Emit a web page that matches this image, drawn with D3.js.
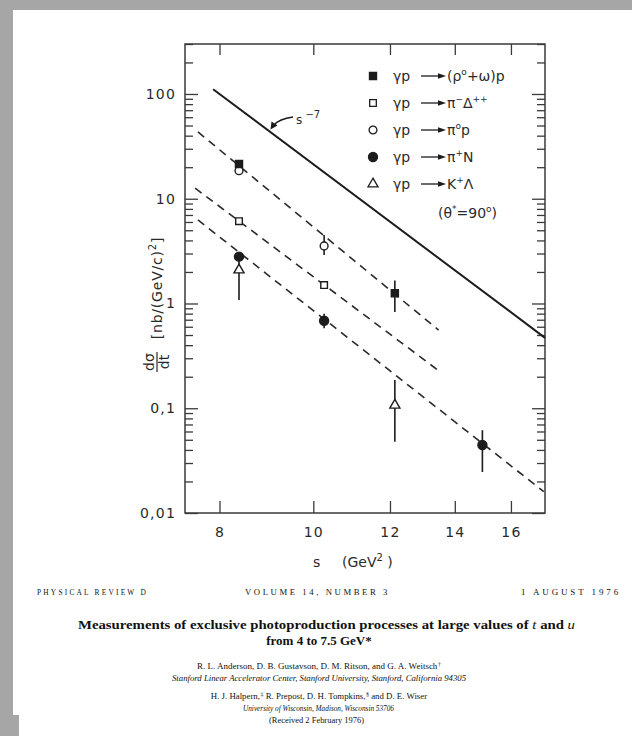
<!DOCTYPE html>
<html><head><meta charset="utf-8">
<script src="https://cdn.jsdelivr.net/npm/d3@7"></script>
<style>
html,body{margin:0;padding:0;background:#a6a6a6;}
svg{display:block;}
</style></head>
<body>
<svg id="c" width="632" height="736"></svg>
<script>
// ---------- data ----------
const xTicks = [8, 10, 12, 14, 16];
const yTicks = [0.01, 0.1, 1, 10, 100];
const yTickLabels = ["0,01", "0,1", "1", "10", "100"];

// series: s (GeV^2), dσ/dt, error low, error high (null = no bar)
const rhoOmegaS   = [8.38, 12.14];
const rhoOmegaV   = [21.5, 1.25];
const rhoOmegaLo  = [null, 0.83];
const rhoOmegaHi  = [null, 1.66];

const piDeltaS    = [8.38, 10.26];
const piDeltaV    = [6.1, 1.5];

const pi0pS       = [8.38, 10.26];
const pi0pV       = [18.5, 3.54];
const pi0pLo      = [null, 2.9];
const pi0pHi      = [null, 4.5];

const piNS        = [8.38, 10.26, 14.95];
const piNV        = [2.8, 0.685, 0.0446];
const piNLo       = [null, 0.58, 0.0246];
const piNHi       = [null, 0.80, 0.0617];

const kLamS       = [8.38, 12.14];
const kLamV       = [2.09, 0.107];
const kLamLo      = [1.08, 0.048];
const kLamHi      = [2.6, 0.186];

// fitted lines (end points)
const solidLineS  = [7.88, 17.35];
const solidLineV  = [111, 0.47];
const dash1S      = [7.60, 13.47];
const dash1V      = [43.4, 0.558];
const dash2S      = [7.55, 13.52];
const dash2V      = [12.6, 0.223];
const dash3S      = [7.60, 17.3];
const dash3V      = [6.27, 0.016];

const legendLabels = [
  [{t:"(ρ"},{t:"o",sup:1},{t:"+ω)p"}],
  [{t:"π"},{t:"−",sup:1},{t:"Δ"},{t:"++",sup:1}],
  [{t:"π"},{t:"o",sup:1},{t:"p"}],
  [{t:"π"},{t:"+",sup:1},{t:"N"}],
  [{t:"K"},{t:"+",sup:1},{t:"Λ"}]
];

// ---------- drawing ----------
const svg = d3.select("#c");
const ink = "#1c1c1c";
const hand = "'DejaVu Sans', sans-serif";
const serif = "'Liberation Serif', 'Times New Roman', serif";

// paper
svg.append("rect").attr("x",13).attr("y",10).attr("width",619).attr("height",726).attr("fill","#fff");
svg.append("rect").attr("x",13).attr("y",715).attr("width",6).attr("height",21).attr("fill","#a6a6a6");

const L=185, R=545, T=44, B=513;
const x = d3.scaleLog().domain([7.37, 17.35]).range([L, R]);
const y = d3.scaleLog().domain([0.01, 300]).range([B, T]);

const minorY = [];
[0.01,0.1,1,10,100].forEach(d=>{ for(let k=2;k<=9;k++){ const v=d*k; if(v<=300) minorY.push(v);} });

function styleAxis(g){
  g.select(".domain").remove();
  g.selectAll("line").attr("stroke","#3a3a3a").attr("stroke-width",1.3);
  g.selectAll("text").attr("font-family",hand).attr("font-size",14).attr("fill","#2a2a2a").attr("letter-spacing",1.2);
}
// left axis
svg.append("g").attr("transform",`translate(${L},0)`)
  .call(d3.axisLeft(y).tickValues(yTicks).tickFormat((d,i)=>yTickLabels[i]).tickSizeInner(-13).tickSizeOuter(0).tickPadding(9))
  .call(styleAxis);
svg.append("g").attr("transform",`translate(${L},0)`)
  .call(d3.axisLeft(y).tickValues(minorY).tickFormat("").tickSizeInner(-8).tickSizeOuter(0))
  .call(styleAxis);
// right axis
svg.append("g").attr("transform",`translate(${R},0)`)
  .call(d3.axisRight(y).tickValues(yTicks).tickFormat("").tickSizeInner(-13).tickSizeOuter(0))
  .call(styleAxis);
svg.append("g").attr("transform",`translate(${R},0)`)
  .call(d3.axisRight(y).tickValues(minorY).tickFormat("").tickSizeInner(-8).tickSizeOuter(0))
  .call(styleAxis);
// bottom axis
svg.append("g").attr("transform",`translate(0,${B})`)
  .call(d3.axisBottom(x).tickValues(xTicks).tickFormat(d3.format("d")).tickSizeInner(-12).tickSizeOuter(0).tickPadding(14))
  .call(styleAxis);
// top axis
svg.append("g").attr("transform",`translate(0,${T})`)
  .call(d3.axisTop(x).tickValues(xTicks).tickFormat("").tickSizeInner(-11).tickSizeOuter(0))
  .call(styleAxis);
// frame
svg.append("rect").attr("x",L).attr("y",T).attr("width",R-L).attr("height",B-T)
  .attr("fill","none").attr("stroke","#3a3a3a").attr("stroke-width",1.5);

// x axis title
const xt = svg.append("text").attr("x",313).attr("y",567).attr("font-family",hand).attr("font-size",14).attr("fill","#2a2a2a");
xt.append("tspan").text("s");
xt.append("tspan").attr("x",342).text("(GeV");
xt.append("tspan").attr("dy",-6).attr("font-size",10).text("2");
xt.append("tspan").attr("dy",6).text(" )");

// y axis title
const yg = svg.append("g").attr("transform","translate(162,288) rotate(-90)");
const yt = yg.append("text").attr("text-anchor","middle").attr("font-family",hand).attr("font-size",14).attr("fill","#2a2a2a").attr("letter-spacing",0.8);
yt.append("tspan").text("[nb/(GeV/c)");
yt.append("tspan").attr("dy",-6).attr("font-size",10).text("2");
yt.append("tspan").attr("dy",6).text("]");
const fg = svg.append("g").attr("transform","translate(157,362) rotate(-90)");
fg.append("text").attr("text-anchor","middle").attr("y",-3).attr("font-family",hand).attr("font-size",14).attr("fill","#2a2a2a").text("dσ");
fg.append("line").attr("x1",-10).attr("x2",10).attr("y1",0).attr("y2",0).attr("stroke","#2a2a2a").attr("stroke-width",1.2);
fg.append("text").attr("text-anchor","middle").attr("y",12).attr("font-family",hand).attr("font-size",14).attr("fill","#2a2a2a").text("dt");

// lines
const line = d3.line().x(d=>x(d[0])).y(d=>y(d[1]));
function pairs(a,b){ return a.map((v,i)=>[v,b[i]]); }
svg.append("path").attr("d",line(pairs(solidLineS,solidLineV))).attr("stroke",ink).attr("stroke-width",2).attr("fill","none");
[[dash1S,dash1V],[dash2S,dash2V],[dash3S,dash3V]].forEach(([s,v])=>{
  svg.append("path").attr("d",line(pairs(s,v))).attr("stroke","#2a2a2a").attr("stroke-width",1.6)
    .attr("stroke-dasharray","8,6").attr("fill","none");
});

// s^-7 annotation
svg.append("path").attr("d",`M293,117 Q279,119 274,125`).attr("stroke",ink).attr("stroke-width",1.3).attr("fill","none");
svg.append("path").attr("d",`M270.5,129.5 L271.5,121.5 L277.5,125.5 Z`).attr("fill",ink);
const st = svg.append("text").attr("x",296).attr("y",124).attr("font-family",hand).attr("font-size",12).attr("fill","#2a2a2a");
st.append("tspan").text("s");
st.append("tspan").attr("dy",-6).attr("font-size",10).text(" −7");

// markers
const sym = {
  fsq: d3.symbol().type(d3.symbolSquare).size(50),
  osq: d3.symbol().type(d3.symbolSquare).size(44),
  oci: d3.symbol().type(d3.symbolCircle).size(48),
  fci: d3.symbol().type(d3.symbolCircle).size(64),
  otr: d3.symbol().type(d3.symbolTriangle).size(44)
};
const mstyle = {
  fsq:{fill:ink, stroke:ink}, osq:{fill:"#fff",stroke:ink}, oci:{fill:"#fff",stroke:ink},
  fci:{fill:ink,stroke:ink}, otr:{fill:"#fff",stroke:ink}
};
function series(S,V,Lo,Hi,kind){
  S.forEach((s,i)=>{
    if(Lo && Lo[i]!=null){
      svg.append("line").attr("x1",x(s)).attr("x2",x(s)).attr("y1",y(Lo[i])).attr("y2",y(Hi[i]))
        .attr("stroke",ink).attr("stroke-width",1.6);
    }
  });
  S.forEach((s,i)=>{
    svg.append("path").attr("d",sym[kind]()).attr("transform",`translate(${x(s)},${y(V[i])})`)
      .attr("fill",mstyle[kind].fill).attr("stroke",mstyle[kind].stroke).attr("stroke-width",1.4);
  });
}
series(kLamS,kLamV,kLamLo,kLamHi,"otr");
series(piNS,piNV,piNLo,piNHi,"fci");
series(piDeltaS,piDeltaV,null,null,"osq");
series(pi0pS,pi0pV,pi0pLo,pi0pHi,"oci");
series(rhoOmegaS,rhoOmegaV,rhoOmegaLo,rhoOmegaHi,"fsq");

// legend
const legKinds = ["fsq","osq","oci","fci","otr"];
const legY = [76,103,130,157,184];
legKinds.forEach((k,i)=>{
  const yy = legY[i];
  svg.append("path").attr("d",sym[k]()).attr("transform",`translate(373,${yy})`)
    .attr("fill",mstyle[k].fill).attr("stroke",mstyle[k].stroke).attr("stroke-width",1.3);
  svg.append("text").attr("x",393).attr("y",yy+5).attr("font-family",hand).attr("font-size",14).attr("fill","#2a2a2a").text("γp");
  svg.append("line").attr("x1",421).attr("x2",442).attr("y1",yy).attr("y2",yy).attr("stroke",ink).attr("stroke-width",1.3);
  svg.append("path").attr("d",`M446,${yy} L438,${yy-2.8} L438,${yy+2.8} Z`).attr("fill",ink);
  const t = svg.append("text").attr("x",447).attr("y",yy+5).attr("font-family",hand).attr("font-size",14).attr("fill","#2a2a2a");
  let shift = 0;
  legendLabels[i].forEach(seg=>{
    const want = seg.sup ? -6 : 0;
    const ts = t.append("tspan").attr("dy", want - shift).text(seg.t);
    if(seg.sup) ts.attr("font-size",9);
    shift = want;
  });
});
const th = svg.append("text").attr("x",438).attr("y",218).attr("font-family",hand).attr("font-size",14).attr("fill","#2a2a2a");
th.append("tspan").text("(θ");
th.append("tspan").attr("dy",-6).attr("font-size",9).text("*");
th.append("tspan").attr("dy",6).text("=90");
th.append("tspan").attr("dy",-6).attr("font-size",9).text("o");
th.append("tspan").attr("dy",6).text(")");

// ---------- page text ----------
function ptext(xx,yy,str,opt){
  const t = svg.append("text").attr("x",xx).attr("y",yy).attr("font-family",serif).attr("fill","#111")
    .attr("font-size",opt.size).attr("text-anchor",opt.anchor||"start");
  if(str) t.text(str);
  if(opt.weight) t.attr("font-weight",opt.weight);
  if(opt.italic) t.attr("font-style","italic");
  if(opt.ls) t.attr("letter-spacing",opt.ls);
  if(opt.len) t.attr("textLength",opt.len).attr("lengthAdjust","spacingAndGlyphs");
  return t;
}
ptext(37,595,"PHYSICAL REVIEW D",{size:8,ls:2.4,len:111});
ptext(245,595,"VOLUME 14, NUMBER 3",{size:8,ls:2.4,len:145});
ptext(521,595,"1 AUGUST 1976",{size:8,ls:2.6,len:100});

const t1 = ptext(78,629,"",{size:13,weight:"bold",len:497});
t1.append("tspan").text("Measurements of exclusive photoproduction processes at large values of ");
t1.append("tspan").attr("font-style","italic").attr("font-weight","normal").text("t");
t1.append("tspan").text(" and ");
t1.append("tspan").attr("font-style","italic").attr("font-weight","normal").text("u");
ptext(319,645,"from 4 to 7.5 GeV*",{size:13,weight:"bold",anchor:"middle"});

const a1 = ptext(319,669,"",{size:9,anchor:"middle"});
a1.append("tspan").text("R. L. Anderson, D. B. Gustavson, D. M. Ritson, and G. A. Weitsch");
a1.append("tspan").attr("dx",0.6).attr("dy",-3.5).attr("font-size",6).text("†");
ptext(172,681,"Stanford Linear Accelerator Center, Stanford University, Stanford, California 94305",{size:8.5,italic:true,len:294});
const a2 = ptext(319,699,"",{size:8.8,anchor:"middle"});
a2.append("tspan").text("H. J. Halpern,");
a2.append("tspan").attr("dx",0.6).attr("dy",-3.5).attr("font-size",6).text("‡");
a2.append("tspan").attr("dy",3.5).text(" R. Prepost, D. H. Tompkins,");
a2.append("tspan").attr("dx",0.6).attr("dy",-3.5).attr("font-size",6).text("§");
a2.append("tspan").attr("dy",3.5).text(" and D. E. Wiser");
ptext(243,711,"University of Wisconsin, Madison, Wisconsin 53706",{size:8,italic:true,len:151});
ptext(269,723,"(Received 2 February 1976)",{size:8.3,len:95});
</script>
</body></html>
